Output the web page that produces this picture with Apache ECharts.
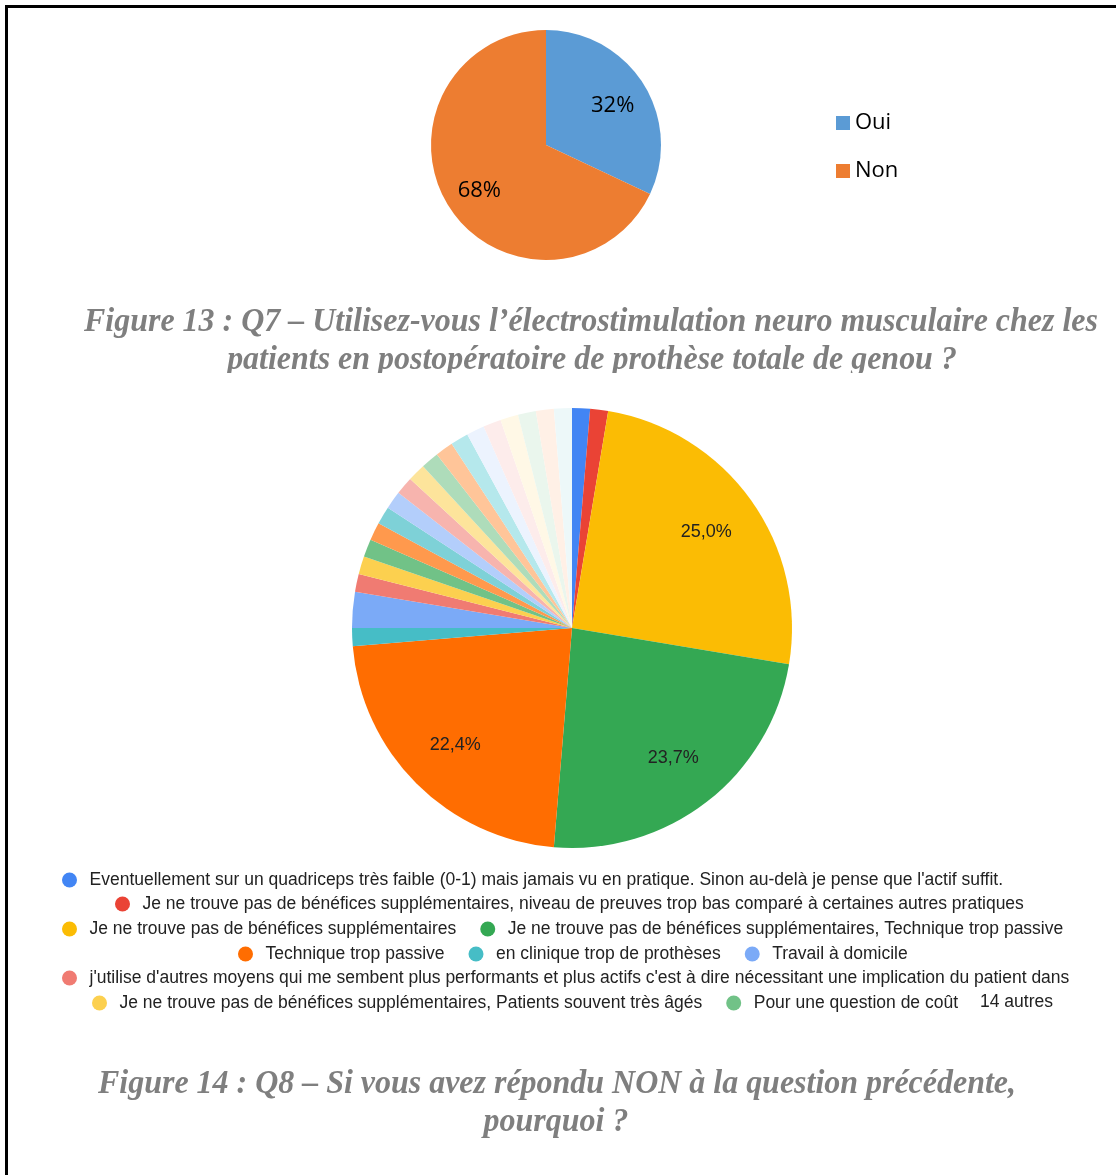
<!DOCTYPE html>
<html>
<head>
<meta charset="utf-8">
<script src="https://cdn.jsdelivr.net/npm/echarts@6/dist/echarts.min.js"></script>
<style>
html,body{margin:0;padding:0;background:#fff;}
#chart{width:1116px;height:1175px;}
</style>
</head>
<body>
<div id="chart"></div>
<script>
// ---- Q7 data ----
const q7Categories = ['Oui', 'Non'];
const q7Values = [32, 68];
const q7Colors = ['#5b9bd5', '#ed7d31'];

// ---- Q8 data ----
const q8Categories = [
  "Eventuellement sur un quadriceps très faible (0-1) mais jamais vu en pratique. Sinon au-delà je pense que l'actif suffit.",
  "Je ne trouve pas de bénéfices supplémentaires, niveau de preuves trop bas comparé à certaines autres pratiques",
  "Je ne trouve pas de bénéfices supplémentaires",
  "Je ne trouve pas de bénéfices supplémentaires, Technique trop passive",
  "Technique trop passive",
  "en clinique trop de prothèses",
  "Travail à domicile",
  "j'utilise d'autres moyens qui me sembent plus performants et plus actifs c'est à dire nécessitant une implication du patient dans",
  "Je ne trouve pas de bénéfices supplémentaires, Patients souvent très âgés",
  "Pour une question de coût",
  "Autre 1", "Autre 2", "Autre 3", "Autre 4", "Autre 5", "Autre 6", "Autre 7",
  "Autre 8", "Autre 9", "Autre 10", "Autre 11", "Autre 12", "Autre 13", "Autre 14"
];
const q8Values = [1, 1, 19, 18, 17, 1, 2, 1, 1, 1, 1, 1, 1, 1, 1, 1, 1, 1, 1, 1, 1, 1, 1, 1];
const q8Colors = [
  '#4285f4', '#ea4335', '#fbbc04', '#34a853', '#ff6d01', '#46bdc6', '#7baaf7', '#f07b72',
  '#fcd04f', '#71c287', '#ff994d', '#7ed1d7', '#b3cefb', '#f7b4ae', '#fde49b', '#aedcba',
  '#ffc599', '#b5e8ec', '#ecf3fe', '#fdeceb', '#fff8e6', '#eaf6ed', '#fff0e6', '#edf8f9'
];
// legend rows (indexes into q8Categories)
const q8LegendRows = [[0], [1], [2, 3], [4, 5, 6], [7], [8, 9]];
const q8OtherLabel = '14 autres';

const caption13 = [
  "Figure 13 : Q7 – Utilisez-vous l’électrostimulation neuro musculaire chez les",
  "patients en postopératoire de prothèse totale de genou ?"
];
const caption14 = [
  "Figure 14 : Q8 – Si vous avez répondu NON à la question précédente,",
  "pourquoi ?"
];

const chart = echarts.init(document.getElementById('chart'), null, {renderer: 'canvas'});

const rowLeft = [57, 110, 57, 233, 57, 87];
const rowY = [879, 903, 928, 953, 977, 1002];

const legends = [{
  data: q7Categories,
  orient: 'vertical',
  left: 831, top: 107,
  icon: 'rect', itemWidth: 14, itemHeight: 14, itemGap: 26,
  textStyle: {fontFamily: 'Open Sans', fontSize: 22, color: '#000'}
}];
q8LegendRows.forEach((row, i) => {
  legends.push({
    data: row.map(k => q8Categories[k]),
    orient: 'horizontal',
    left: rowLeft[i], top: rowY[i] - 13,
    icon: 'circle', itemWidth: 30, itemHeight: 15, itemGap: 24,
    textStyle: {fontFamily: 'Liberation Sans', fontSize: 17.5, color: '#222'}
  });
});

const captionFont = {fontFamily: 'Liberation Serif', fontStyle: 'italic', fontWeight: 'bold', fontSize: 34, fill: '#7f7f7f', align: 'center', verticalAlign: 'middle'};
const capScale = 0.94;

chart.setOption({
  animation: false,
  backgroundColor: '#fff',
  legend: legends,
  series: [
    {
      type: 'pie', center: [546, 145], radius: [0, 115], startAngle: 90, clockwise: true,
      data: q7Categories.map((n, i) => ({name: n, value: q7Values[i], itemStyle: {color: q7Colors[i]}})),
      label: {show: false}, labelLine: {show: false},
      itemStyle: {borderWidth: 0}, emphasis: {disabled: true}
    },
    {
      type: 'pie', center: [572, 628], radius: [0, 220], startAngle: 90, clockwise: true,
      data: q8Categories.map((n, i) => ({name: n, value: q8Values[i], itemStyle: {color: q8Colors[i]}})),
      label: {show: false}, labelLine: {show: false},
      itemStyle: {borderWidth: 0}, emphasis: {disabled: true}
    },
    // label carriers (transparent) so labels sit at the right radius
    {
      type: 'pie', center: [546, 148], radius: [0, 152], startAngle: 90, silent: true,
      data: q7Values.map(v => ({name: '', value: v})),
      itemStyle: {color: 'rgba(0,0,0,0)', borderWidth: 0},
      label: {show: true, position: 'inside', formatter: p => Math.round(p.percent) + '%',
        fontFamily: 'Open Sans', fontSize: 22, color: '#000'},
      labelLine: {show: false}, avoidLabelOverlap: false
    },
    {
      type: 'pie', center: [572, 628], radius: [0, 324], startAngle: 90, silent: true,
      data: q8Values.map(v => ({name: '', value: v})),
      itemStyle: {color: 'rgba(0,0,0,0)', borderWidth: 0},
      label: {show: true, position: 'inside',
        formatter: p => p.percent >= 5 ? p.percent.toFixed(1).replace('.', ',') + '%' : '',
        fontFamily: 'Liberation Sans', fontSize: 18, color: '#222'},
      labelLine: {show: false}, avoidLabelOverlap: false
    }
  ],
  graphic: [
    {type: 'rect', shape: {x: 5, y: 5, width: 1111, height: 3}, style: {fill: '#000'}},
    {type: 'rect', shape: {x: 5, y: 5, width: 3, height: 1170}, style: {fill: '#000'}},
    {type: 'text', x: 591, y: 322, scaleX: capScale, style: Object.assign({text: caption13[0]}, captionFont)},
    {type: 'text', x: 592, y: 360, scaleX: capScale, style: Object.assign({text: caption13[1]}, captionFont)},
    {type: 'rect', z: 100, shape: {x: 150, y: 373, width: 900, height: 14}, style: {fill: '#fff'}},
    {type: 'text', x: 557, y: 1084, scaleX: capScale, style: Object.assign({text: caption14[0]}, captionFont)},
    {type: 'text', x: 556, y: 1122, scaleX: capScale, style: Object.assign({text: caption14[1]}, captionFont)},
    {type: 'text', x: 980, y: 1002, style: {text: q8OtherLabel, fontFamily: 'Liberation Sans', fontSize: 17.5, fill: '#222', align: 'left', verticalAlign: 'middle'}}
  ]
});
</script>
</body>
</html>
